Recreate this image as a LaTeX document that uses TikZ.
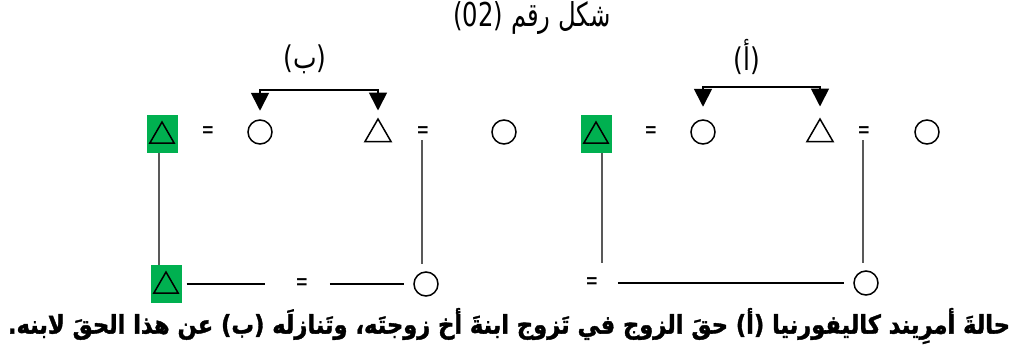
\documentclass[tikz,border=0pt]{standalone}
\usepackage{fontspec}
\usepackage{graphicx}
\setmainfont{Liberation Sans}
\TeXXeTstate=1
\newfontfamily\arabicfont[Script=Arabic]{DejaVu Sans}
\newfontfamily\arabicheavy[Script=Arabic,FakeBold=1.5]{DejaVu Sans Bold}
\usetikzlibrary{shapes.geometric,arrows.meta,calc}
\definecolor{kgreen}{RGB}{0,176,80}
\tikzset{
  circ/.style={circle,draw,minimum size=24pt,inner sep=0pt,line width=1.5pt},
  tri/.style={regular polygon,regular polygon sides=3,draw,minimum size=30pt,inner sep=0pt,line width=1.5pt},
  smalltri/.style={regular polygon,regular polygon sides=3,draw,minimum size=28pt,inner sep=0pt,line width=1.5pt},
  gsq/.style={rectangle,fill=kgreen,minimum width=31pt,minimum height=38pt,inner sep=0pt},
  eqs/.style={inner sep=0pt,font=\bfseries\fontsize{19}{19}\selectfont},
  vline/.style={line width=2pt,black!65},
  hline/.style={line width=1.9pt,black},
  arr/.style={line width=1.7pt,{Triangle[width=18pt,length=18pt]}-{Triangle[width=18pt,length=18pt]}},
  lbl/.style={inner sep=0pt,font=\arabicfont\fontsize{25}{25}\selectfont}
}
\begin{document}
\begin{tikzpicture}[x=1pt,y=-1pt]
\useasboundingbox (0,0) rectangle (1020,349);
% caption top
\node[inner sep=0pt] (cap) at (532,18) {\resizebox*{157pt}{33pt}{\arabicfont (02) \beginR شكل رقم\endR}};
% ---------- group B ----------
\node[gsq] (gB1) at (162,134) {};
\node[smalltri] at ([yshift=-2pt]gB1.center) {};
\node[eqs] (eqB1) at (208,132) {=};
\node[circ] (cB1) at (260,132) {};
\node[tri] (tB2) at (378,134) {};
\node[eqs] (eqB2) at (423,132) {=};
\node[circ] (cB2) at (504,132) {};
\coordinate (aB) at (316,90);
\draw[arr,shorten <=8.5pt,shorten >=7pt] (cB1.north) |- (aB) -| (tB2.north);
\node[lbl] (lB) at (305,59) {\scalebox{1}[1.25]{\beginR(ب)\endR}};
\node[gsq] (gB3) at (166,284) {};
\node[smalltri] at ([yshift=-2pt]gB3.center) {};
\node[eqs] (eqB3) at (302,284) {=};
\node[circ] (cB3) at (426,284) {};
\draw[hline,shorten <=5pt,shorten >=31pt] (gB3.east) -- (eqB3.west);
\draw[hline,shorten <=22pt,shorten >=9.5pt] (eqB3.east) -- (cB3.west);
\draw[vline] ([xshift=-3pt]gB1.south) -- ([xshift=-3pt]gB1.south |- gB3.north);
\draw[vline,shorten <=3pt,shorten >=7pt] ([xshift=-1pt]eqB2.south) -- ([xshift=-1pt]eqB2.south |- cB3.north);
% ---------- group A ----------
\node[gsq] (gA1) at (596,134) {};
\node[smalltri] at ([yshift=-2pt]gA1.center) {};
\node[eqs] (eqA1) at (651,132) {=};
\node[circ] (cA1) at (703,132) {};
\node[tri] (tA2) at (820,134) {};
\node[eqs] (eqA2) at (864,132) {=};
\node[circ] (cA2) at (927,132) {};
\coordinate (aA) at (758,87);
\draw[arr,shorten <=12.5pt,shorten >=11pt] (cA1.north) |- (aA) -| (tA2.north);
\node[lbl] (lA) at (747,57) {\scalebox{1}[1.25]{\beginR(أ)\endR}};
\node[eqs] (eqA3) at (592,283) {=};
\node[circ] (cA3) at (866,283) {};
\coordinate (vA) at (602,263);
\draw[hline,shorten <=20pt,shorten >=9.5pt] (eqA3.east) -- (cA3.west);
\draw[vline] ([xshift=6pt]gA1.south) -- (vA);
\draw[vline,shorten <=3pt,shorten >=7pt] ([xshift=-1pt]eqA2.south) -- ([xshift=-1pt]eqA2.south |- cA3.north);
% bottom caption
\node[inner sep=0pt] (bcap) at (509,326) {\resizebox*{1002pt}{36pt}{\arabicheavy\beginR حالةَ أمرِيند كاليفورنيا (أ) حقَ الزوج في تَزوج ابنةَ أخ زوجتَه، وتَنازلَه (ب) عن هذا الحقَ لابنه.\endR}};
\end{tikzpicture}
\end{document}
